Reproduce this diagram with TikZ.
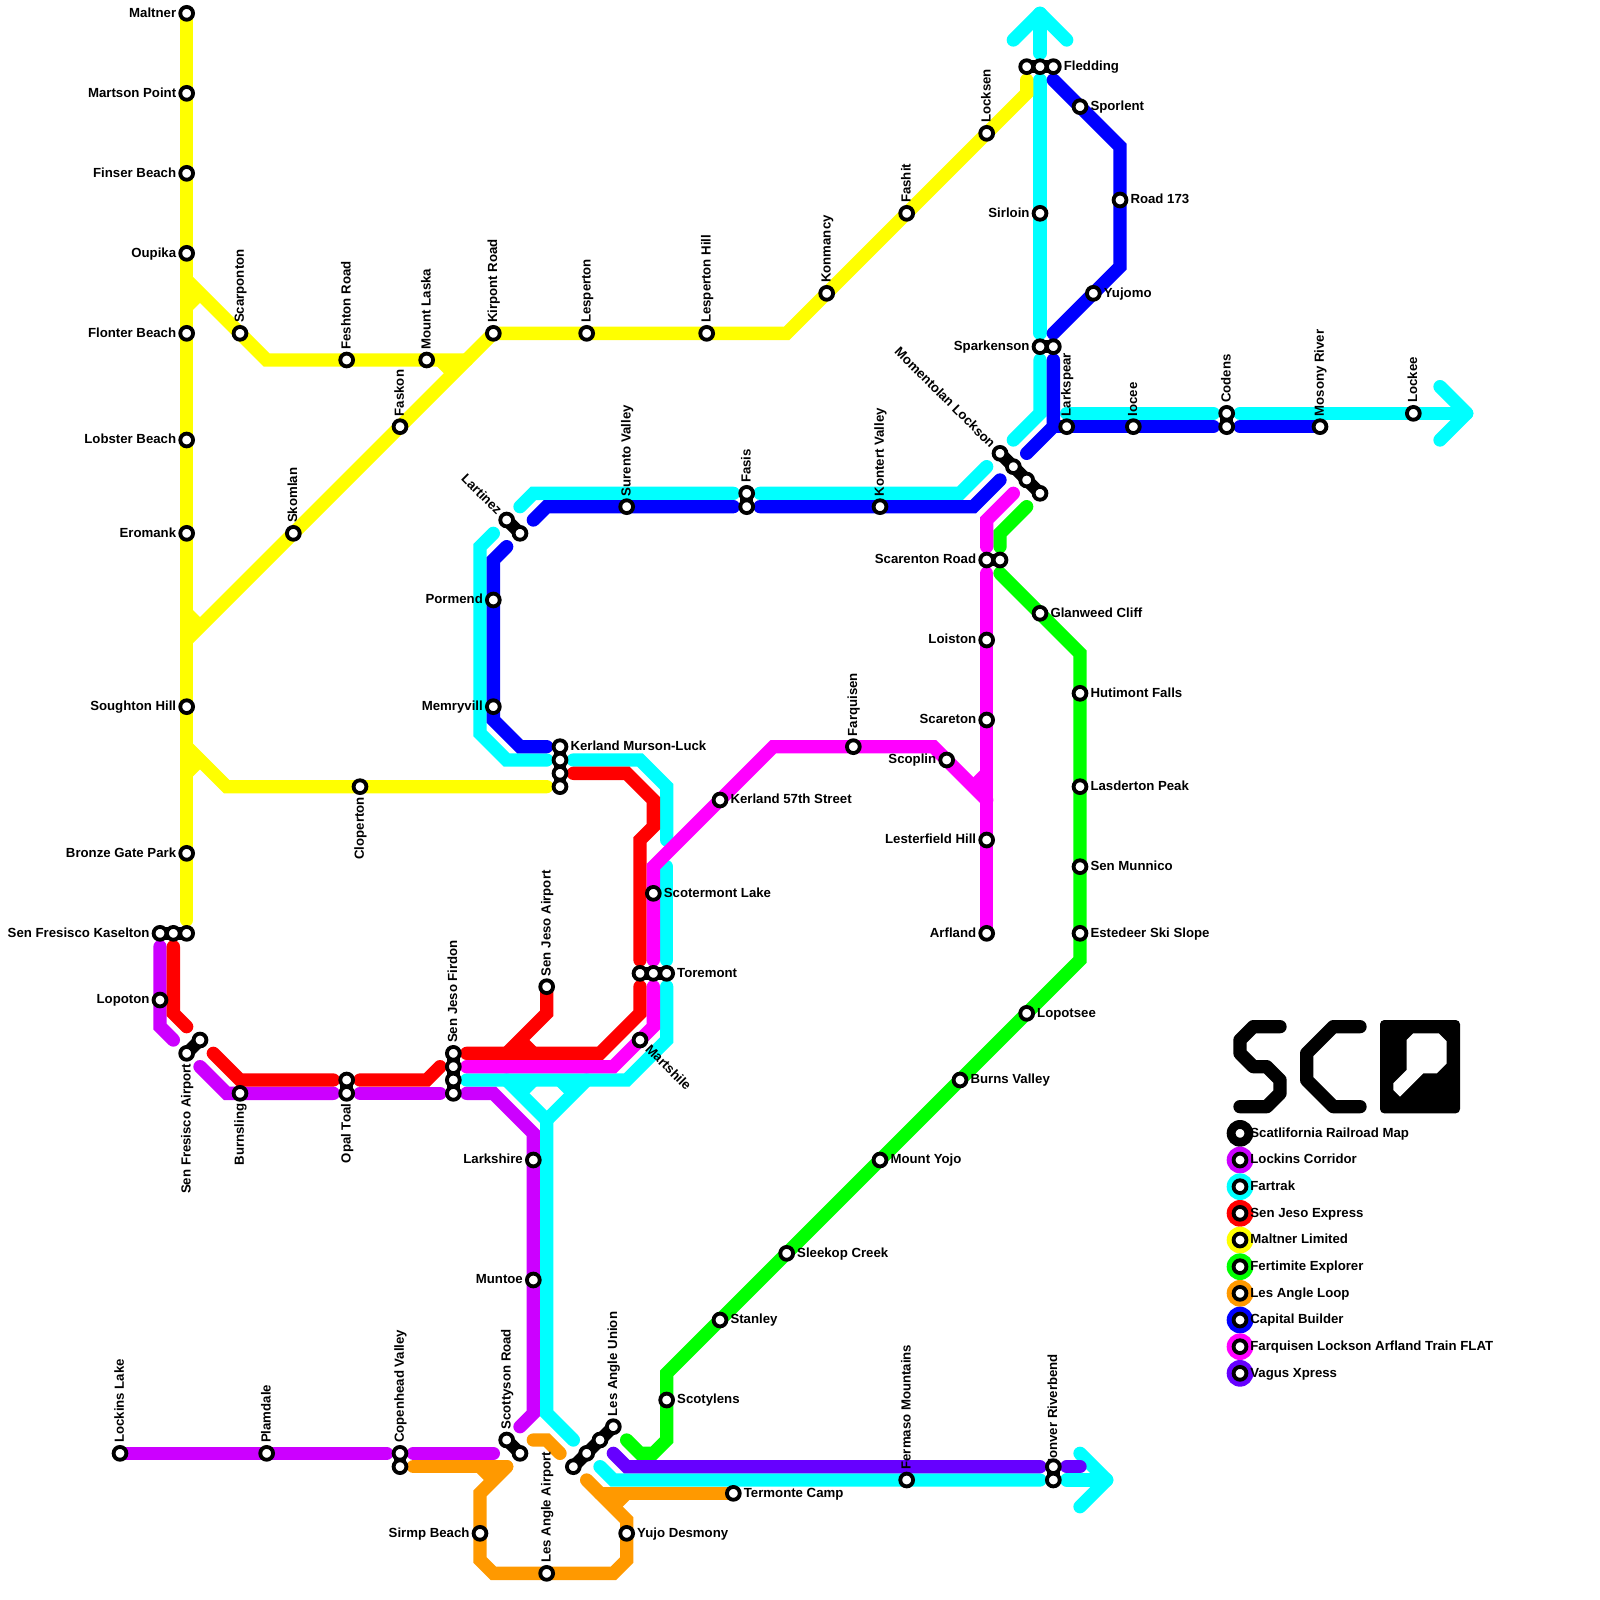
\documentclass[tikz,border=0pt]{standalone}
\usepackage{fontspec}
\setmainfont{Liberation Sans}
\pgfdeclarelayer{lines}
\pgfdeclarelayer{links}
\pgfsetlayers{lines,links,main}
\definecolor{cPurple}{HTML}{CC00FF}
\definecolor{cCyan}{HTML}{00FFFF}
\definecolor{cRed}{HTML}{FF0000}
\definecolor{cYellow}{HTML}{FFFF00}
\definecolor{cGreen}{HTML}{00FF00}
\definecolor{cOrange}{HTML}{FF9900}
\definecolor{cBlue}{HTML}{0000FF}
\definecolor{cMagenta}{HTML}{FF00FF}
\definecolor{cViolet}{HTML}{6600FF}
\tikzset{
  stn/.style={circle,draw=black,fill=white,line width=0.072cm,minimum size=0.24cm,inner sep=0pt},
  lbl/.style={inner sep=0pt,font=\bfseries\fontsize{7.05}{8.5}\selectfont,text height=5.5pt,text depth=1.4pt},
  lblR/.style={lbl,anchor=west,xshift=0.19cm},
  lblL/.style={lbl,anchor=east,xshift=-0.19cm},
  lblU/.style={lbl,anchor=west,rotate=90,xshift=0.19cm},
  lblD/.style={lbl,anchor=east,rotate=90,xshift=-0.19cm},
  lblUL/.style={lbl,anchor=east,rotate=-45,xshift=-0.19cm},
  lblDR/.style={lbl,anchor=west,rotate=-45,xshift=0.19cm},
  track/.style={line width=0.25cm,line cap=round,line join=miter,miter limit=4},
  arrowline/.style={track,line join=round},
  linkbar/.style={line width=0.235cm,draw=black,line cap=round},
  logoline/.style={line width=0.25cm,draw=black,line cap=round,line join=round},
  legdisc/.style={circle,minimum size=0.5cm,inner sep=0pt},
  leglbl/.style={lbl,anchor=west}
}
\begin{document}
\begin{tikzpicture}[x=0.25cm,y=-0.25cm]
\useasboundingbox (0,0) rectangle (120,120);

% stations, right labels
\foreach \nm/\cx/\cy/\tx in {
 fle/79/5/Fledding, spo/81/8/Sporlent, roa/84/15/Road 173, yuj/82/22/Yujomo,
 kml/42/56/Kerland Murson-Luck, sco/49/67/Scotermont Lake, tor/50/73/Toremont,
 k57/54/60/Kerland 57th Street, gla/78/46/Glanweed Cliff, hut/81/52/Hutimont Falls,
 las/81/59/Lasderton Peak, mun/81/65/Sen Munnico, est/81/70/Estedeer Ski Slope,
 lop/77/76/Lopotsee, bur/72/81/Burns Valley, moy/66/87/Mount Yojo,
 sle/59/94/Sleekop Creek, sta/54/99/Stanley, syl/50/105/Scotylens,
 ter/55/112/Termonte Camp, yud/47/115/Yujo Desmony}
 {\node[stn] (\nm) at (\cx,\cy) {}; \node[lblR] (\nm-t) at (\nm.center) {\tx};}
% stations, left labels
\foreach \nm/\cx/\cy/\tx in {
 mal/14/1/Maltner, mar/14/7/Martson Point, fin/14/13/Finser Beach, oup/14/19/Oupika,
 flo/14/25/Flonter Beach, lob/14/33/Lobster Beach, ero/14/40/Eromank,
 sou/14/53/Soughton Hill, bgp/14/64/Bronze Gate Park, kas/12/70/Sen Fresisco Kaselton,
 lpt/12/75/Lopoton, por/37/45/Pormend, mem/37/53/Memryvill, lar/40/87/Larkshire,
 mnt/40/96/Muntoe, sir/36/115/Sirmp Beach, slo/78/16/Sirloin, spk/78/26/Sparkenson,
 scr/74/42/Scarenton Road, loi/74/48/Loiston, sct/74/54/Scareton, spl/71/57/Scoplin,
 lst/74/63/Lesterfield Hill, arf/74/70/Arfland}
 {\node[stn] (\nm) at (\cx,\cy) {}; \node[lblL] (\nm-t) at (\nm.center) {\tx};}
% stations, labels upward
\foreach \nm/\cx/\cy/\tx in {
 scp/18/25/Scarponton, fes/26/27/Feshton Road, mla/32/27/Mount Laska, fas/30/32/Faskon,
 sko/22/40/Skomlan, kir/37/25/Kirpont Road, les/44/25/Lesperton, lhi/53/25/Lesperton Hill,
 kon/62/22/Konmancy, fsh/68/16/Fashit, loc/74/10/Locksen, sur/47/38/Surento Valley,
 fss/56/37/Fasis, kov/66/38/Kontert Valley, lks/80/32/Larkspear, ioc/85/32/Iocee,
 cod/92/31/Codens, mos/99/32/Mosony River, lke/106/31/Lockee, faq/64/56/Farquisen,
 sjf/34/79/Sen Jeso Firdon, sja/41/74/Sen Jeso Airport, cop/30/109/Copenhead Valley,
 sty/38/108/Scottyson Road, lau/46/107/Les Angle Union, laa/41/118/Les Angle Airport,
 fer/68/111/Fermaso Mountains, mon/79/111/Monver Riverbend, lol/9/109/Lockins Lake,
 pla/20/109/Plamdale}
 {\node[stn] (\nm) at (\cx,\cy) {}; \node[lblU] (\nm-t) at (\nm.center) {\tx};}
% stations, labels downward
\foreach \nm/\cx/\cy/\tx in {
 sfa/14/79/Sen Fresisco Airport, brn/18/82/Burnsling, opa/26/82/Opal Toal, clo/27/59/Cloperton}
 {\node[stn] (\nm) at (\cx,\cy) {}; \node[lblD] (\nm-t) at (\nm.center) {\tx};}
% diagonal labels
\node[stn] (lat) at (38,39) {}; \node[lblUL] (lat-t) at (lat.center) {Lartinez};
\node[stn] (mol) at (75,34) {}; \node[lblUL] (mol-t) at (mol.center) {Momentolan Lockson};
\node[stn] (msh) at (48,78) {}; \node[lblDR] (msh-t) at (msh.center) {Martshile};
% further platforms of the same stations
\foreach \nm/\cx/\cy in {
 fle1/77/5, fle2/78/5, kas1/13/70, kas2/14/70, sfa2/15/78, opa2/26/81,
 sjf2/34/80, sjf3/34/81, sjf4/34/82, tor1/48/73, tor2/49/73,
 kml2/42/57, kml3/42/58, kml4/42/59, lat2/39/40, fss2/56/38,
 mol2/76/35, mol3/77/36, mol4/78/37, scr2/75/42, spk2/79/26,
 cod2/92/32, cop2/30/110, sty2/39/109,
 lau2/45/108, lau3/44/109, lau4/43/110, mon2/79/110}
 {\node[stn] (\nm) at (\cx,\cy) {};}

\begin{pgfonlayer}{links}
\draw[linkbar] (fle1.center)--(fle2.center)--(fle.center);
\draw[linkbar] (kas.center)--(kas1.center)--(kas2.center);
\draw[linkbar] (sfa.center)--(sfa2.center);
\draw[linkbar] (opa2.center)--(opa.center);
\draw[linkbar] (sjf.center)--(sjf2.center)--(sjf3.center)--(sjf4.center);
\draw[linkbar] (tor1.center)--(tor2.center)--(tor.center);
\draw[linkbar] (kml.center)--(kml2.center)--(kml3.center)--(kml4.center);
\draw[linkbar] (lat.center)--(lat2.center);
\draw[linkbar] (fss.center)--(fss2.center);
\draw[linkbar] (mol.center)--(mol2.center)--(mol3.center)--(mol4.center);
\draw[linkbar] (scr.center)--(scr2.center);
\draw[linkbar] (spk.center)--(spk2.center);
\draw[linkbar] (cod.center)--(cod2.center);
\draw[linkbar] (cop.center)--(cop2.center);
\draw[linkbar] (sty.center)--(sty2.center);
\draw[linkbar] (lau.center)--(lau2.center)--(lau3.center)--(lau4.center);
\draw[linkbar] (mon.center)--(mon2.center);
\end{pgfonlayer}

\begin{pgfonlayer}{lines}
% Lockins Corridor
\draw[track,cPurple] (12,71)--(lpt.center)--(12,77)--(13,78);
\draw[track,cPurple] (15,80)--(17,82)--(25,82);
\draw[track,cPurple] (27,82)--(33,82);
\draw[track,cPurple] (35,82)--(37,82)--(40,85)--(lar.center)--(mnt.center)--(40,106)--(39,107);
\draw[track,cPurple] (lol.center)--(pla.center)--(29,109);
\draw[track,cPurple] (31,109)--(37,109);
% Fartrak
\draw[arrowline,cCyan] (76,3)--(78,1)--(80,3);
\draw[track,cCyan] (78,1)--(78,4);
\draw[track,cCyan] (78,6)--(slo.center)--(78,25);
\draw[track,cCyan] (78,27)--(78,31)--(76,33);
\draw[track,cCyan] (74,35)--(72,37)--(57,37);
\draw[track,cCyan] (55,37)--(40,37)--(39,38);
\draw[track,cCyan] (37,40)--(36,41)--(36,55)--(38,57)--(41,57);
\draw[track,cCyan] (43,57)--(48,57)--(50,59)--(50,63);
\draw[track,cCyan] (50,65)--(50,72);
\draw[track,cCyan] (50,74)--(50,78)--(47,81)--(35,81);
\draw[track,cCyan] (38,81)--(41,84)--(41,106)--(43,108);
\draw[track,cCyan] (44,81)--(41,84);
\draw[track,cCyan,line cap=butt] (39,82)--(40,81);
\draw[track,cCyan,line cap=butt] (43,82)--(42,81);
\draw[track,cCyan] (45,110)--(46,111)--(fer.center)--(78,111);
\draw[track,cCyan] (80,111)--(83,111);
\draw[arrowline,cCyan] (81,109)--(83,111)--(81,113);
\draw[track,cCyan] (80,31)--(91,31);
\draw[track,cCyan] (93,31)--(lke.center)--(110,31);
\draw[arrowline,cCyan] (108,29)--(110,31)--(108,33);
% Sen Jeso Express
\draw[track,cRed] (13,71)--(13,76)--(14,77);
\draw[track,cRed] (16,79)--(18,81)--(25,81);
\draw[track,cRed] (27,81)--(32,81)--(33,80);
\draw[track,cRed] (35,79)--(45,79)--(48,76)--(48,74);
\draw[track,cRed] (sja.center)--(41,76)--(38,79);
\draw[track,cRed,line cap=butt] (39,78)--(40,79);
\draw[track,cRed] (48,72)--(48,63)--(49,62)--(49,60)--(47,58)--(43,58);
% Maltner Limited
\draw[track,cYellow] (mal.center)--(14,69);
\draw[track,cYellow] (14,21)--(scp.center)--(20,27)--(35,27);
\draw[track,cYellow,line cap=butt] (14,23)--(15,22);
\draw[track,cYellow,line cap=butt] (33,27)--(34,28);
\draw[track,cYellow] (14,48)--(kir.center)--(59,25)--(77,7)--(77,6);
\draw[track,cYellow,line cap=butt] (14,46)--(15,47);
\draw[track,cYellow] (14,56)--(17,59)--(41,59);
\draw[track,cYellow,line cap=butt] (14,58)--(15,57);
% Fertimite Explorer
\draw[track,cGreen] (77,38)--(75,40)--(75,41);
\draw[track,cGreen] (75,43)--(81,49)--(81,72)--(50,103)--(50,108)--(49,109)--(48,109)--(47,108);
% Les Angle Loop
\draw[track,cOrange] (31,110)--(38,110);
\draw[track,cOrange] (38,110)--(36,112)--(36,117)--(37,118)--(46,118)--(47,117)--(47,114)--(44,111);
\draw[track,cOrange,line cap=butt] (36,110)--(37,111);
\draw[track,cOrange] (45,112)--(ter.center);
\draw[track,cOrange,line cap=butt] (46,113)--(47,112);
\draw[track,cOrange] (40,108)--(41,108)--(42,109);
% Capital Builder
\draw[track,cBlue] (79,6)--(84,11)--(84,20)--(79,25);
\draw[track,cBlue] (79,27)--(79,32)--(77,34);
\draw[track,cBlue] (79,32)--(91,32);
\draw[track,cBlue] (93,32)--(mos.center);
\draw[track,cBlue] (75,36)--(73,38)--(57,38);
\draw[track,cBlue] (55,38)--(41,38)--(40,39);
\draw[track,cBlue] (38,41)--(37,42)--(37,54)--(39,56)--(41,56);
% Farquisen Lockson Arfland Train FLAT
\draw[track,cMagenta] (35,80)--(46,80)--(49,77)--(49,74);
\draw[track,cMagenta] (49,72)--(49,65)--(58,56)--(70,56)--(74,60);
\draw[track,cMagenta,line cap=butt] (74,58)--(73,59);
\draw[track,cMagenta] (74,43)--(arf.center);
\draw[track,cMagenta] (74,41)--(74,39)--(76,37);
% Vagus Xpress
\draw[track,cViolet] (46,109)--(47,110)--(78,110);
\draw[track,cViolet] (80,110)--(81,110);
\end{pgfonlayer}

% logo
\draw[logoline] (96,77)--(94,77)--(93,78)--(93,79)--(94,80)--(95,80)--(96,81)--(96,82)--(95,83)--(93,83);
\draw[logoline] (102,77)--(100,77)--(98,79)--(98,81)--(100,83)--(102,83);
\fill[black,rounded corners=0.08cm] (103.5,76.5) rectangle (109.5,83.5);
\fill[white] (106,77.5)--(107.9,77.5)--(108.5,78.1)--(108.5,79.75)--(107.75,80.5)--(106.75,80.5)--(105,82.25)--(104.5,81.75)--(104.5,81.25)--(105.5,80.25)--(105.5,78)--cycle;

% legend
\foreach \nm/\cy/\col/\tx in {
 a/85/black/Scatlifornia Railroad Map, b/87/cPurple/Lockins Corridor, c/89/cCyan/Fartrak,
 d/91/cRed/Sen Jeso Express, e/93/cYellow/Maltner Limited, f/95/cGreen/Fertimite Explorer,
 g/97/cOrange/Les Angle Loop, h/99/cBlue/Capital Builder,
 i/101/cMagenta/Farquisen Lockson Arfland Train FLAT, j/103/cViolet/Vagus Xpress}
 {\node[legdisc,fill=\col] (disc\nm) at (93,\cy) {};
  \node[stn] (ring\nm) at (disc\nm.center) {};
  \node[leglbl] (text\nm) at (93.75,\cy) {\tx};}
\end{tikzpicture}
\end{document}
